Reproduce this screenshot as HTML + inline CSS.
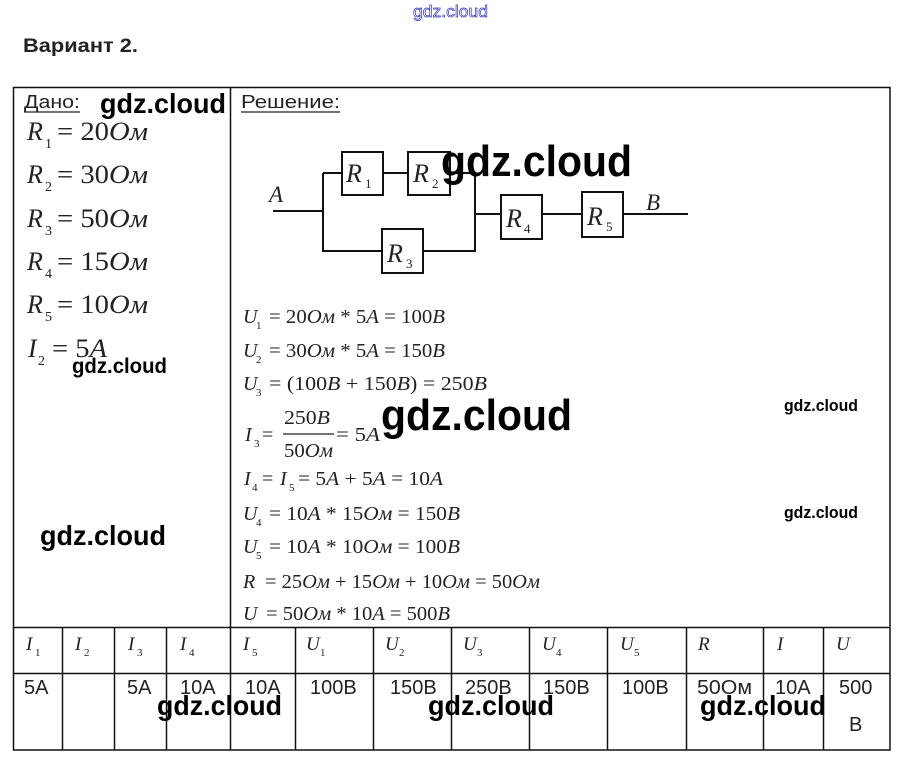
<!DOCTYPE html>
<html><head><meta charset="utf-8"><style>
html,body{margin:0;padding:0;background:#fff;}
svg{display:block;}
.m{font-family:"Liberation Serif",serif;fill:#222;}
.i{font-style:italic;}
.n{font-style:normal;}
.s{font-family:"Liberation Sans",sans-serif;fill:#222;}
.w{font-family:"Liberation Sans",sans-serif;font-weight:bold;fill:#000;}
</style></head><body>
<svg width="901" height="766" viewBox="0 0 901 766" xmlns="http://www.w3.org/2000/svg">
<rect width="901" height="766" fill="#fff"/>
<!-- top watermark -->
<text x="413" y="17" font-family="Liberation Sans, sans-serif" font-size="17" fill="#fff" stroke="#3434c8" stroke-width="0.7" textLength="75" lengthAdjust="spacingAndGlyphs">gdz.cloud</text>
<!-- title -->
<text x="23" y="52" class="s" font-weight="bold" font-size="19" fill="#111" textLength="115" lengthAdjust="spacingAndGlyphs">Вариант 2.</text>

<!-- table lines -->
<g stroke="#111" stroke-width="1.5" fill="none">
<rect x="13.5" y="87.5" width="876.5" height="662.5"/>
<line x1="230.5" y1="87" x2="230.5" y2="673"/>
<line x1="13" y1="627.5" x2="890" y2="627.5"/>
<line x1="13" y1="673.5" x2="890" y2="673.5"/>
<line x1="62.5" y1="627" x2="62.5" y2="750"/>
<line x1="114.5" y1="627" x2="114.5" y2="750"/>
<line x1="166.5" y1="627" x2="166.5" y2="750"/>
<line x1="230.5" y1="673" x2="230.5" y2="750"/>
<line x1="295.5" y1="627" x2="295.5" y2="750"/>
<line x1="373.5" y1="627" x2="373.5" y2="750"/>
<line x1="451.5" y1="627" x2="451.5" y2="750"/>
<line x1="529.5" y1="627" x2="529.5" y2="750"/>
<line x1="607.5" y1="627" x2="607.5" y2="750"/>
<line x1="686.5" y1="627" x2="686.5" y2="750"/>
<line x1="763.5" y1="627" x2="763.5" y2="750"/>
<line x1="823.5" y1="627" x2="823.5" y2="750"/>
</g>

<!-- headings -->
<text x="24" y="108" class="s" font-size="18" textLength="56" lengthAdjust="spacingAndGlyphs">Дано:</text>
<line x1="24" y1="112" x2="80" y2="112" stroke="#222" stroke-width="1.2"/>
<text x="241" y="108" class="s" font-size="18" textLength="99" lengthAdjust="spacingAndGlyphs">Решение:</text>
<line x1="241" y1="112" x2="340" y2="112" stroke="#222" stroke-width="1.2"/>

<!-- Given -->
<g font-size="26">
<text x="27" y="140" class="m i">R</text><text x="45" y="148" class="m n" font-size="14">1</text>
<text x="57" y="140" class="m n" textLength="91" lengthAdjust="spacingAndGlyphs">= 20<tspan font-style="italic">Ом</tspan></text>
<text x="27" y="183" class="m i">R</text><text x="45" y="191" class="m n" font-size="14">2</text>
<text x="57" y="183" class="m n" textLength="91" lengthAdjust="spacingAndGlyphs">= 30<tspan font-style="italic">Ом</tspan></text>
<text x="27" y="227" class="m i">R</text><text x="45" y="235" class="m n" font-size="14">3</text>
<text x="57" y="227" class="m n" textLength="91" lengthAdjust="spacingAndGlyphs">= 50<tspan font-style="italic">Ом</tspan></text>
<text x="27" y="270" class="m i">R</text><text x="45" y="278" class="m n" font-size="14">4</text>
<text x="57" y="270" class="m n" textLength="91" lengthAdjust="spacingAndGlyphs">= 15<tspan font-style="italic">Ом</tspan></text>
<text x="27" y="313" class="m i">R</text><text x="45" y="321" class="m n" font-size="14">5</text>
<text x="57" y="313" class="m n" textLength="91" lengthAdjust="spacingAndGlyphs">= 10<tspan font-style="italic">Ом</tspan></text>
<text x="28" y="357" class="m i">I</text><text x="38" y="365" class="m n" font-size="14">2</text>
<text x="52" y="357" class="m n" textLength="55" lengthAdjust="spacingAndGlyphs">= 5<tspan font-style="italic">A</tspan></text>
</g>

<!-- circuit -->
<g stroke="#111" stroke-width="2" fill="none">
<polyline points="273,211 323,211"/>
<line x1="323" y1="173" x2="323" y2="252"/>
<line x1="323" y1="173" x2="342" y2="173"/>
<line x1="383" y1="173" x2="408" y2="173"/>
<line x1="450" y1="173" x2="475" y2="173"/>
<line x1="475" y1="173" x2="475" y2="252"/>
<line x1="323" y1="251" x2="382" y2="251"/>
<line x1="423" y1="251" x2="475" y2="251"/>
<line x1="475" y1="214" x2="501" y2="214"/>
<line x1="542" y1="214" x2="582" y2="214"/>
<line x1="623" y1="214" x2="688" y2="214"/>
<rect x="342" y="152" width="41" height="43"/>
<rect x="408" y="152" width="42" height="43"/>
<rect x="382" y="229" width="41" height="44"/>
<rect x="501" y="195" width="41" height="44"/>
<rect x="582" y="192" width="41" height="45"/>
</g>
<g>
<text x="269" y="202" class="m i" font-size="23">A</text>
<text x="646" y="210" class="m i" font-size="23">B</text>
<text x="346" y="182" class="m i" font-size="26">R</text><text x="365" y="188" class="m n" font-size="13">1</text>
<text x="413" y="182" class="m i" font-size="26">R</text><text x="432" y="188" class="m n" font-size="13">2</text>
<text x="387" y="262" class="m i" font-size="26">R</text><text x="406" y="268" class="m n" font-size="13">3</text>
<text x="506" y="227" class="m i" font-size="26">R</text><text x="524" y="233" class="m n" font-size="13">4</text>
<text x="587" y="225" class="m i" font-size="26">R</text><text x="606" y="231" class="m n" font-size="13">5</text>
</g>

<!-- solution -->
<g font-size="20">
<text x="243" y="323" class="m i">U</text><text x="256" y="329" class="m n" font-size="11">1</text>
<text x="269" y="323" class="m n" textLength="176" lengthAdjust="spacingAndGlyphs">= 20<tspan font-style="italic">Ом</tspan> * 5<tspan font-style="italic">A</tspan> = 100<tspan font-style="italic">В</tspan></text>
<text x="243" y="357" class="m i">U</text><text x="256" y="363" class="m n" font-size="11">2</text>
<text x="269" y="357" class="m n" textLength="176" lengthAdjust="spacingAndGlyphs">= 30<tspan font-style="italic">Ом</tspan> * 5<tspan font-style="italic">A</tspan> = 150<tspan font-style="italic">В</tspan></text>
<text x="243" y="390" class="m i">U</text><text x="256" y="396" class="m n" font-size="11">3</text>
<text x="269" y="390" class="m n" textLength="218" lengthAdjust="spacingAndGlyphs">= (100<tspan font-style="italic">В</tspan> + 150<tspan font-style="italic">В</tspan>) = 250<tspan font-style="italic">В</tspan></text>
<text x="245" y="441" class="m i">I</text><text x="254" y="447" class="m n" font-size="11">3</text>
<text x="262" y="441" class="m n">=</text>
<text x="284" y="424" class="m n" textLength="46" lengthAdjust="spacingAndGlyphs">250<tspan font-style="italic">В</tspan></text>
<line x1="283" y1="434" x2="334" y2="434" stroke="#222" stroke-width="1.2"/>
<text x="284" y="457" class="m n" textLength="49" lengthAdjust="spacingAndGlyphs">50<tspan font-style="italic">Ом</tspan></text>
<text x="336" y="441" class="m n" textLength="44" lengthAdjust="spacingAndGlyphs">= 5<tspan font-style="italic">A</tspan></text>
<text x="244" y="485" class="m i">I</text><text x="252" y="491" class="m n" font-size="11">4</text>
<text x="262" y="485" class="m n">=</text>
<text x="280" y="485" class="m i">I</text><text x="289" y="491" class="m n" font-size="11">5</text>
<text x="298" y="485" class="m n" textLength="145" lengthAdjust="spacingAndGlyphs">= 5<tspan font-style="italic">A</tspan> + 5<tspan font-style="italic">A</tspan> = 10<tspan font-style="italic">A</tspan></text>
<text x="243" y="520" class="m i">U</text><text x="256" y="526" class="m n" font-size="11">4</text>
<text x="269" y="520" class="m n" textLength="191" lengthAdjust="spacingAndGlyphs">= 10<tspan font-style="italic">A</tspan> * 15<tspan font-style="italic">Ом</tspan> = 150<tspan font-style="italic">В</tspan></text>
<text x="243" y="553" class="m i">U</text><text x="256" y="559" class="m n" font-size="11">5</text>
<text x="269" y="553" class="m n" textLength="191" lengthAdjust="spacingAndGlyphs">= 10<tspan font-style="italic">A</tspan> * 10<tspan font-style="italic">Ом</tspan> = 100<tspan font-style="italic">В</tspan></text>
<text x="243" y="588" class="m i">R</text>
<text x="265" y="588" class="m n" textLength="275" lengthAdjust="spacingAndGlyphs">= 25<tspan font-style="italic">Ом</tspan> + 15<tspan font-style="italic">Ом</tspan> + 10<tspan font-style="italic">Ом</tspan> = 50<tspan font-style="italic">Ом</tspan></text>
<text x="243" y="620" class="m i">U</text>
<text x="266" y="620" class="m n" textLength="184" lengthAdjust="spacingAndGlyphs">= 50<tspan font-style="italic">Ом</tspan> * 10<tspan font-style="italic">A</tspan> = 500<tspan font-style="italic">В</tspan></text>
</g>

<!-- table header -->
<g font-size="19">
<text x="26" y="650" class="m i" fill="#333">I</text><text x="35" y="656" class="m n" font-size="11">1</text>
<text x="75" y="650" class="m i">I</text><text x="84" y="656" class="m n" font-size="11">2</text>
<text x="128" y="650" class="m i">I</text><text x="137" y="656" class="m n" font-size="11">3</text>
<text x="180" y="650" class="m i">I</text><text x="189" y="656" class="m n" font-size="11">4</text>
<text x="243" y="650" class="m i">I</text><text x="252" y="656" class="m n" font-size="11">5</text>
<text x="306" y="650" class="m i">U</text><text x="320" y="656" class="m n" font-size="11">1</text>
<text x="385" y="650" class="m i">U</text><text x="399" y="656" class="m n" font-size="11">2</text>
<text x="463" y="650" class="m i">U</text><text x="477" y="656" class="m n" font-size="11">3</text>
<text x="542" y="650" class="m i">U</text><text x="556" y="656" class="m n" font-size="11">4</text>
<text x="620" y="650" class="m i">U</text><text x="634" y="656" class="m n" font-size="11">5</text>
<text x="698" y="650" class="m i">R</text>
<text x="777" y="650" class="m i">I</text>
<text x="836" y="650" class="m i">U</text>
</g>
<!-- table values -->
<g font-size="20">
<text x="24" y="694" class="s">5A</text>
<text x="127" y="694" class="s">5A</text>
<text x="180" y="694" class="s">10A</text>
<text x="245" y="694" class="s">10A</text>
<text x="310" y="694" class="s">100В</text>
<text x="390" y="694" class="s">150В</text>
<text x="465" y="694" class="s">250В</text>
<text x="543" y="694" class="s">150В</text>
<text x="622" y="694" class="s">100В</text>
<text x="697" y="694" class="s" textLength="55" lengthAdjust="spacingAndGlyphs">50Ом</text>
<text x="775" y="694" class="s">10A</text>
<text x="839" y="694" class="s">500</text>
<text x="849" y="731" class="s">В</text>
</g>

<!-- watermarks -->
<g class="w">
<text x="100" y="113" font-size="28" textLength="126" lengthAdjust="spacingAndGlyphs">gdz.cloud</text>
<text x="441" y="176" font-size="44" textLength="191" lengthAdjust="spacingAndGlyphs">gdz.cloud</text>
<text x="72" y="373" font-size="21" textLength="95" lengthAdjust="spacingAndGlyphs">gdz.cloud</text>
<text x="381" y="430" font-size="44" textLength="191" lengthAdjust="spacingAndGlyphs">gdz.cloud</text>
<text x="784" y="411" font-size="17" textLength="74" lengthAdjust="spacingAndGlyphs">gdz.cloud</text>
<text x="784" y="518" font-size="17" textLength="74" lengthAdjust="spacingAndGlyphs">gdz.cloud</text>
<text x="40" y="545" font-size="28" textLength="126" lengthAdjust="spacingAndGlyphs">gdz.cloud</text>
<text x="157" y="715" font-size="28" textLength="125" lengthAdjust="spacingAndGlyphs">gdz.cloud</text>
<text x="428" y="715" font-size="28" textLength="126" lengthAdjust="spacingAndGlyphs">gdz.cloud</text>
<text x="700" y="715" font-size="28" textLength="126" lengthAdjust="spacingAndGlyphs">gdz.cloud</text>
</g>
</svg>
</body></html>
